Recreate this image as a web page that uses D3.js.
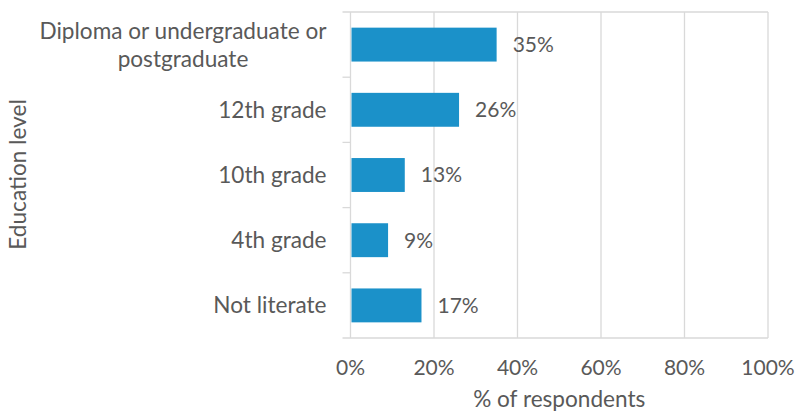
<!DOCTYPE html>
<html>
<head>
<meta charset="utf-8">
<script src="https://cdn.jsdelivr.net/npm/d3@7/dist/d3.min.js"></script>
<style>
  html, body { margin: 0; padding: 0; background: #fff; }
  svg { display: block; font-family: Lato, "Open Sans", sans-serif; }
</style>
</head>
<body>
<svg id="chart" width="796" height="414"></svg>
<script>
// Education level of respondents (share of respondents, %)
const categories = [
  ["Diploma or undergraduate or", "postgraduate"],
  ["12th grade"],
  ["10th grade"],
  ["4th grade"],
  ["Not literate"]
];
const values = [35, 26, 13, 9, 17];
const xTicks = [0, 20, 40, 60, 80, 100];
const xTitle = "% of respondents";
const yTitle = "Education level";

const svg = d3.select("#chart");
const margin = { top: 12, right: 28, bottom: 76, left: 350.5 };
const W = 796, H = 414;
const plotW = W - margin.left - margin.right;
const plotH = H - margin.top - margin.bottom;

const gridColor = "#d9d9d9";
const textColor = "#595959";
const barColor = "#1b91c9";

const keys = categories.map(c => c.join(" "));
const x = d3.scaleLinear().domain([0, 100]).range([0, plotW]);
const y = d3.scaleBand().domain(keys).range([0, plotH]).paddingInner(0.48).paddingOuter(0.24);
const yBand = d3.scaleBand().domain(keys).range([0, plotH]);

const g = svg.append("g").attr("transform", `translate(${margin.left},${margin.top})`);

// vertical gridlines
g.append("g").selectAll("line").data(xTicks).join("line")
  .attr("x1", d => x(d)).attr("x2", d => x(d))
  .attr("y1", 0).attr("y2", plotH)
  .attr("stroke", gridColor).attr("stroke-width", 1.3);

// plot border: top and bottom
g.append("line").attr("x1", -8).attr("x2", plotW).attr("y1", 0).attr("y2", 0)
  .attr("stroke", gridColor).attr("stroke-width", 1.3);
g.append("line").attr("x1", -8).attr("x2", plotW).attr("y1", plotH).attr("y2", plotH)
  .attr("stroke", gridColor).attr("stroke-width", 1.3);

// category tick marks between bands
g.append("g").selectAll("line").data(keys.slice(1)).join("line")
  .attr("x1", -8).attr("x2", 0)
  .attr("y1", d => yBand(d)).attr("y2", d => yBand(d))
  .attr("stroke", gridColor).attr("stroke-width", 1.3);

// bars
g.append("g").selectAll("rect").data(values).join("rect")
  .attr("x", x(0) + 1)
  .attr("y", (d, i) => y(keys[i]))
  .attr("width", d => x(d) - x(0) - 1)
  .attr("height", y.bandwidth())
  .attr("fill", barColor);

// value labels
g.append("g").selectAll("text").data(values).join("text")
  .attr("x", d => x(d) + 16)
  .attr("y", (d, i) => yBand(keys[i]) + yBand.bandwidth() / 2)
  .attr("dy", "0.35em")
  .attr("fill", textColor)
  .attr("font-size", 21)
  .text(d => d + "%");

// category labels
const catG = g.append("g");
const catSize = 22.6;
categories.forEach((lines, i) => {
  const cy = yBand(keys[i]) + yBand.bandwidth() / 2;
  const lh = 28;
  const t = catG.append("text")
    .attr("text-anchor", "end")
    .attr("fill", textColor)
    .attr("font-size", catSize);
  lines.forEach((ln, j) => {
    t.append("tspan")
      .attr("x", -24)
      .attr("y", cy + (j - (lines.length - 1) / 2) * lh)
      .attr("dy", "0.35em")
      .attr("text-anchor", j === 0 ? "end" : "middle")
      .text(ln);
  });
});
// centre the wrapped second line under the first
catG.selectAll("text").each(function () {
  const ts = d3.select(this).selectAll("tspan").nodes();
  if (ts.length > 1) {
    const w0 = ts[0].getComputedTextLength();
    d3.select(ts[1]).attr("x", -24 - w0 / 2);
  }
});

// x tick labels
g.append("g").selectAll("text").data(xTicks).join("text")
  .attr("x", d => x(d)).attr("y", plotH + 30)
  .attr("dy", "0.35em")
  .attr("text-anchor", "middle")
  .attr("fill", textColor)
  .attr("font-size", 21)
  .text(d => d + "%");

// axis titles
g.append("text")
  .attr("x", plotW / 2).attr("y", plotH + 61)
  .attr("dy", "0.35em")
  .attr("text-anchor", "middle")
  .attr("fill", textColor)
  .attr("font-size", 22.6)
  .text(xTitle);

svg.append("text")
  .attr("transform", `translate(18,174.5) rotate(-90)`)
  .attr("dy", "0.35em")
  .attr("text-anchor", "middle")
  .attr("fill", textColor)
  .attr("font-size", 22.6)
  .text(yTitle);
</script>
</body>
</html>
